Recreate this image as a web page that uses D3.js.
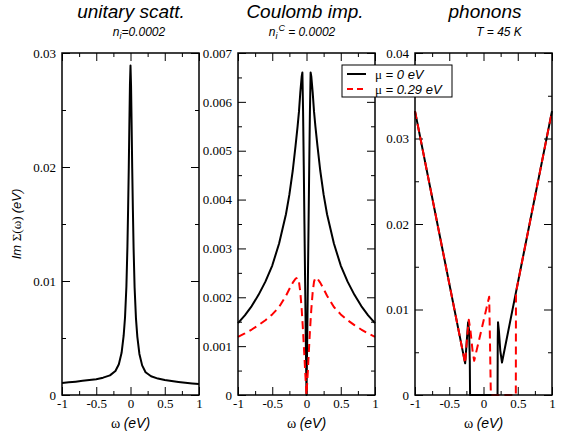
<!DOCTYPE html>
<html>
<head>
<meta charset="utf-8">
<script src="https://cdn.jsdelivr.net/npm/d3@7"></script>
<style>
body { margin: 0; background: #fff; }
</style>
</head>
<body>
<div id="chart"></div>
<script>
// tick values shared by all panels
var xMajor = [-1, -0.5, 0, 0.5, 1];
var xMinor = [-0.75, -0.25, 0.25, 0.75];

// panel 1 : unitary scattering
var unitaryOmega = [-1, -0.9, -0.8, -0.7, -0.6, -0.5, -0.4, -0.3, -0.22, -0.17, -0.13, -0.1, -0.08, -0.06, -0.045, -0.035, -0.025, -0.016, -0.008, 0,
    0.008, 0.016, 0.025, 0.035, 0.045, 0.06, 0.08, 0.1, 0.13, 0.17, 0.22, 0.3, 0.4, 0.5, 0.6, 0.7, 0.8, 0.9, 1];
var unitarySigma = [0.00106, 0.00111, 0.00117, 0.00124, 0.00131, 0.00139, 0.00152, 0.00172, 0.0021, 0.0027, 0.0037, 0.0052, 0.0068, 0.0095, 0.0130, 0.0163, 0.0200, 0.0240, 0.0272, 0.0289,
    0.0271, 0.0239, 0.0199, 0.0162, 0.0129, 0.0094, 0.0067, 0.0051, 0.0036, 0.0026, 0.0020, 0.00164, 0.00144, 0.00131, 0.00122, 0.00114, 0.00107, 0.00101, 0.00096];
var unitaryYMajor = [0, 0.01, 0.02, 0.03];
var unitaryYMinor = [0.005, 0.015, 0.025];

// panel 2 : Coulomb impurities
var coulombOmega = [-1, -0.9, -0.8, -0.7, -0.6, -0.5, -0.4, -0.3, -0.25, -0.2, -0.16, -0.13, -0.11, -0.09, -0.07, -0.06, -0.05, -0.04, -0.03, -0.02, -0.01, 0,
    0.01, 0.02, 0.03, 0.04, 0.05, 0.06, 0.07, 0.09, 0.11, 0.13, 0.16, 0.2, 0.25, 0.3, 0.4, 0.5, 0.6, 0.7, 0.8, 0.9, 1];
var coulombMu0 = [0.00147, 0.00163, 0.00182, 0.00205, 0.00232, 0.00265, 0.0031, 0.0037, 0.0041, 0.0046, 0.0051, 0.0055, 0.0058, 0.0062, 0.00652, 0.0066, 0.0058, 0.0047, 0.0035, 0.0023, 0.0011, 0,
    0.0011, 0.0023, 0.0035, 0.0047, 0.0058, 0.0066, 0.00652, 0.0062, 0.0058, 0.0055, 0.0051, 0.0046, 0.0041, 0.0037, 0.0031, 0.00265, 0.00232, 0.00205, 0.00182, 0.00163, 0.00147];
var coulombMu029 = [0.00119, 0.00126, 0.00134, 0.00143, 0.00153, 0.00165, 0.0018, 0.00203, 0.00217, 0.0023, 0.00238, 0.0024, 0.00232, 0.0021, 0.00175, 0.00153, 0.0013, 0.00104, 0.00078, 0.0005, 0.00025, 0,
    0.00025, 0.0005, 0.00078, 0.00104, 0.0013, 0.00153, 0.00175, 0.0021, 0.00232, 0.0024, 0.00238, 0.0023, 0.00217, 0.00203, 0.0018, 0.00165, 0.00153, 0.00143, 0.00134, 0.00126, 0.00119];
var coulombYMajor = [0, 0.001, 0.002, 0.003, 0.004, 0.005, 0.006, 0.007];
var coulombYMinor = [0.0005, 0.0015, 0.0025, 0.0035, 0.0045, 0.0055, 0.0065];

// panel 3 : phonons
var phononOmegaMu0 = [-1, -0.268, -0.245, -0.225, -0.21, -0.2, -0.196, 0.205, 0.208, 0.212, 0.225, 0.245, 0.27, 1];
var phononMu0 = [0.0332, 0.0037, 0.0062, 0.0085, 0.0075, 0.0040, 0, 0, 0.0065, 0.0085, 0.0075, 0.0052, 0.0038, 0.0332];
var phononOmegaMu029 = [-1, -0.268, -0.245, -0.215, -0.19, -0.16, -0.136, 0.083, 0.095, 0.105, 0.108, 0.472, 0.474, 1];
var phononMu029 = [0.0332, 0.0037, 0.0062, 0.0088, 0.0075, 0.0052, 0.0040, 0.0115, 0.0060, 0.0010, 0, 0, 0.0120, 0.0332];
var phononYMajor = [0, 0.01, 0.02, 0.03, 0.04];
var phononYMinor = [0.005, 0.015, 0.025, 0.035];

var legendLabels = ["0 eV", "0.29 eV"];

var width = 569,
    height = 435;

var plotTop = 53, plotBottom = 395;
var plotH = plotBottom - plotTop;
var panelW = 137;

var sansFont = "'Liberation Sans', Arial, Helvetica, sans-serif";
var serifFont = "'Liberation Serif', 'Times New Roman', serif";

var svg = d3.select('#chart').append('svg')
    .attr('width', width)
    .attr('height', height)
    .style('display', 'block');

var panels = [
    {left: 62, yMax: 0.03, yMajor: unitaryYMajor, yMinor: unitaryYMinor,
     series: [{omega: unitaryOmega, sigma: unitarySigma, color: "black", dash: null}]},
    {left: 238, yMax: 0.007, yMajor: coulombYMajor, yMinor: coulombYMinor,
     series: [{omega: coulombOmega, sigma: coulombMu0, color: "black", dash: null},
              {omega: coulombOmega, sigma: coulombMu029, color: "#ff0000", dash: "8,5"}]},
    {left: 415, yMax: 0.04, yMajor: phononYMajor, yMinor: phononYMinor,
     series: [{omega: phononOmegaMu0, sigma: phononMu0, color: "black", dash: null},
              {omega: phononOmegaMu029, sigma: phononMu029, color: "#ff0000", dash: "8,5"}]}
];

function styleAxis(sel, labels) {
    sel.select(".domain").remove();
    sel.selectAll(".tick line").attr("stroke", "black").attr("stroke-width", 1);
    sel.attr("font-family", serifFont).attr("font-size", 13);
    if (!labels) sel.selectAll(".tick text").remove();
}

function drawPanel(p) {
    var g = svg.append('g').attr("transform", "translate(" + p.left + "," + plotTop + ")");
    var x = d3.scaleLinear().domain([-1, 1]).range([0, panelW]);
    var y = d3.scaleLinear().domain([0, p.yMax]).range([plotH, 0]);

    // ticks point inward on all four sides
    var sides = [
        {fn: d3.axisBottom, sc: x, maj: xMajor, min: xMinor, tr: "translate(0," + plotH + ")", lab: true, pad: 4},
        {fn: d3.axisTop, sc: x, maj: xMajor, min: xMinor, tr: "translate(0,0)", lab: false, pad: 4},
        {fn: d3.axisLeft, sc: y, maj: p.yMajor, min: p.yMinor, tr: "translate(0,0)", lab: true, pad: 6},
        {fn: d3.axisRight, sc: y, maj: p.yMajor, min: p.yMinor, tr: "translate(" + panelW + ",0)", lab: false, pad: 6}
    ];
    sides.forEach(s => {
        g.append('g').attr("transform", s.tr)
            .call(s.fn(s.sc).tickValues(s.maj).tickSizeInner(-8).tickSizeOuter(0)
                .tickPadding(s.pad).tickFormat(d => String(d)))
            .call(a => styleAxis(a, s.lab));
        g.append('g').attr("transform", s.tr)
            .call(s.fn(s.sc).tickValues(s.min).tickSizeInner(-4).tickSizeOuter(0))
            .call(a => styleAxis(a, false));
    });

    var line = d3.line()
        .x(d => x(d[0]))
        .y(d => y(d[1]));

    p.series.forEach(s => {
        g.append("path")
            .datum(d3.zip(s.omega, s.sigma))
            .attr("fill", "none")
            .attr("stroke", s.color)
            .attr("stroke-width", 2)
            .attr("stroke-linejoin", "round")
            .attr("stroke-dasharray", s.dash)
            .attr("d", line);
    });

    g.append("rect")
        .attr("width", panelW)
        .attr("height", plotH)
        .attr("fill", "none")
        .attr("stroke", "black")
        .attr("stroke-width", 1.5);

    // x axis title
    var xt = g.append("text")
        .attr("x", panelW / 2)
        .attr("y", 428 - plotTop)
        .attr("text-anchor", "middle")
        .attr("font-size", 14);
    xt.append("tspan").attr("font-family", serifFont).text("ω ");
    xt.append("tspan").attr("font-family", sansFont).attr("font-style", "italic").text("(eV)");
}

panels.forEach(drawPanel);

// panel titles
var titles = [{t: "unitary scatt.", x: 131}, {t: "Coulomb imp.", x: 305}, {t: "phonons", x: 485}];
svg.selectAll(".ptitle").data(titles).enter().append("text")
    .attr("class", "ptitle")
    .attr("x", d => d.x)
    .attr("y", 18)
    .attr("text-anchor", "middle")
    .attr("font-family", sansFont)
    .attr("font-style", "italic")
    .attr("font-size", 19)
    .text(d => d.t);

// subtitles
var sub1 = svg.append("text").attr("x", 139).attr("y", 36).attr("text-anchor", "middle")
    .attr("font-family", sansFont).attr("font-style", "italic").attr("font-size", 12);
sub1.append("tspan").text("n");
sub1.append("tspan").attr("font-size", 9).attr("dy", 3).text("i");
sub1.append("tspan").attr("dy", -3).text("=0.0002");

var sub2 = svg.append("text").attr("x", 302).attr("y", 36).attr("text-anchor", "middle")
    .attr("font-family", sansFont).attr("font-style", "italic").attr("font-size", 12);
sub2.append("tspan").text("n");
sub2.append("tspan").attr("font-size", 9).attr("dy", 3).text("i");
sub2.append("tspan").attr("font-size", 9).attr("dy", -8).attr("dx", 1).text("C");
sub2.append("tspan").attr("dy", 5).text(" = 0.0002");

svg.append("text").attr("x", 499).attr("y", 36).attr("text-anchor", "middle")
    .attr("font-family", sansFont).attr("font-style", "italic").attr("font-size", 12)
    .text("T = 45 K");

// y axis title
var yt = svg.append("text")
    .attr("transform", "translate(21," + ((plotTop + plotBottom) / 2) + ") rotate(-90)")
    .attr("text-anchor", "middle")
    .attr("font-size", 13);
yt.append("tspan").attr("font-family", sansFont).attr("font-style", "italic").text("Im ");
yt.append("tspan").attr("font-family", serifFont).text("Σ(ω) ");
yt.append("tspan").attr("font-family", sansFont).attr("font-style", "italic").text("(eV)");

// legend
var legend = svg.append('g').attr("class", "legend").attr("transform", "translate(342,65)");
legend.append("rect")
    .attr("width", 110).attr("height", 32)
    .attr("fill", "white").attr("stroke", "black").attr("stroke-width", 1);
var legendItems = [{lab: legendLabels[0], color: "black", dash: null},
                   {lab: legendLabels[1], color: "#ff0000", dash: "6,4"}];
legendItems.forEach((d, i) => {
    legend.append("line")
        .attr("x1", 5).attr("x2", 24)
        .attr("y1", 9 + 15 * i).attr("y2", 9 + 15 * i)
        .attr("stroke", d.color).attr("stroke-width", 2)
        .attr("stroke-dasharray", d.dash);
    var t = legend.append("text")
        .attr("x", 33).attr("y", 14 + 15 * i)
        .attr("font-size", 13);
    t.append("tspan").attr("font-family", serifFont).text("μ");
    t.append("tspan").attr("font-family", sansFont).attr("font-style", "italic").text(" = " + d.lab);
});
</script>
</body>
</html>
